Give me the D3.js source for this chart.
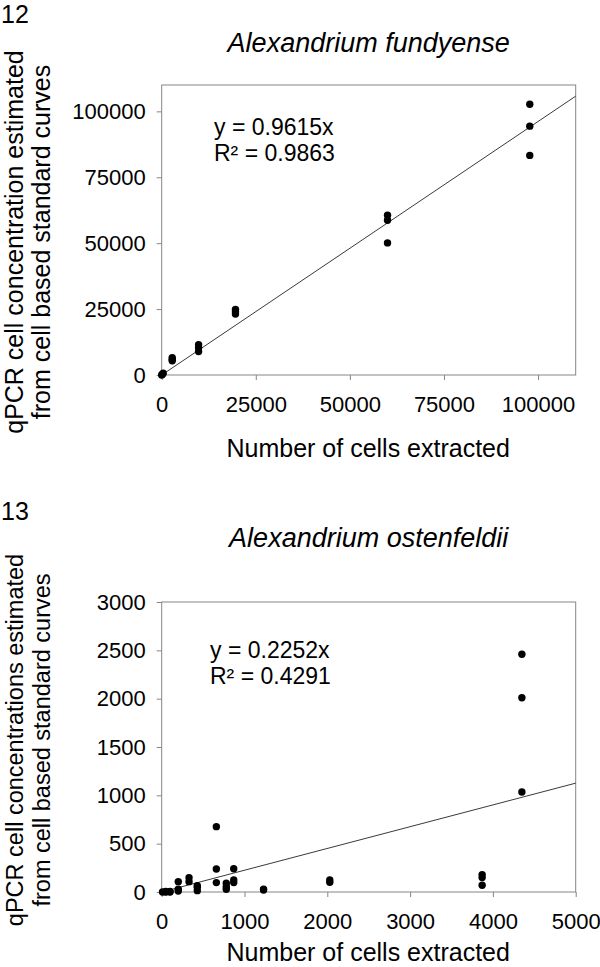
<!DOCTYPE html>
<html>
<head>
<meta charset="utf-8">
<script src="https://cdn.jsdelivr.net/npm/d3@7"></script>
<style>
  html, body { margin: 0; padding: 0; background: #fff; }
  svg { display: block; }
  text { font-family: "Liberation Sans", Arial, sans-serif; fill: #000; }
</style>
</head>
<body>
<svg id="chart" width="600" height="967"></svg>
<script>
// ---------- Data ----------
// Panel 12: Alexandrium fundyense
const fundyenseX = [0, 200, 400, 2800, 2800, 2800, 9800, 9800, 9800, 19600, 19600, 19600, 60000, 60000, 60000, 97800, 97800, 97800];
const fundyenseY = [0, 300, 700, 6600, 5900, 5400, 11500, 10300, 8900, 24900, 24000, 23100, 60600, 58700, 50100, 102700, 94400, 83300];
const fundyenseSlope = 0.9615;
const fundyenseEq = ["y = 0.9615x", "R\u00B2 = 0.9863"];
const fundyenseXTicks = [0, 25000, 50000, 75000, 100000];
const fundyenseYTicks = [0, 25000, 50000, 75000, 100000];

// Panel 13: Alexandrium ostenfeldii
const ostenfeldiiX = [10, 50, 50, 100, 100, 200, 200, 200, 330, 330, 430, 430, 430, 660, 660, 660, 780, 780, 780, 870, 870, 870, 1230, 1230, 2030, 2030, 3870, 3870, 3870, 4350, 4350, 4350];
const ostenfeldiiY = [0, 0, 5, 0, 5, 107, 28, 10, 148, 107, 65, 49, 14, 676, 238, 97, 90, 55, 28, 241, 124, 97, 21, 30, 124, 100, 180, 150, 70, 2460, 2010, 1034];
const ostenfeldiiSlope = 0.2252;
const ostenfeldiiEq = ["y = 0.2252x", "R\u00B2 = 0.4291"];
const ostenfeldiiXTicks = [0, 1000, 2000, 3000, 4000, 5000];
const ostenfeldiiYTicks = [0, 500, 1000, 1500, 2000, 2500, 3000];

const panels = [
  { num: "12", title: "Alexandrium fundyense", xs: fundyenseX, ys: fundyenseY, slope: fundyenseSlope, eq: fundyenseEq,
    xTicks: fundyenseXTicks, yTicks: fundyenseYTicks, xMax: 110000, yMax: 110000,
    yLabel: ["qPCR cell concentration estimated", "from cell based standard curves"] },
  { num: "13", title: "Alexandrium ostenfeldii", xs: ostenfeldiiX, ys: ostenfeldiiY, slope: ostenfeldiiSlope, eq: ostenfeldiiEq,
    xTicks: ostenfeldiiXTicks, yTicks: ostenfeldiiYTicks, xMax: 5000, yMax: 3000,
    yLabel: ["qPCR cell concentrations estimated", "from cell based standard curves"] }
];
const xLabel = "Number of cells extracted";

// ---------- Layout ----------
const layouts = [
  { top: 85, numY: 23, titleY: 52, eqX: 214, eqY: 135, yLabCenter: 242, yLabSize: 25, xLabY: 457, xLabSize: 25 },
  { top: 602, numY: 520, titleY: 547, eqX: 210, eqY: 658, yLabCenter: 740, yLabSize: 23.5, xLabY: 961, xLabSize: 25 }
];
const left = 161.7, plotW = 414, plotH = 290;
const axisColor = "#858585";

const svg = d3.select("#chart");

panels.forEach((p, i) => {
  const L = layouts[i];
  const g = svg.append("g").attr("transform", `translate(${left},${L.top})`);
  const x = d3.scaleLinear().domain([0, p.xMax]).range([0, plotW]);
  const y = d3.scaleLinear().domain([0, p.yMax]).range([plotH, 0]);

  // Axes
  const xAxis = g.append("g").attr("transform", `translate(0,${plotH})`)
    .call(d3.axisBottom(x).tickValues(p.xTicks).tickFormat(d3.format("d")).tickSize(5).tickPadding(16));
  const yAxis = g.append("g")
    .call(d3.axisLeft(y).tickValues(p.yTicks).tickFormat(d3.format("d")).tickSize(5).tickPadding(11));
  [xAxis, yAxis].forEach(a => {
    a.select(".domain").remove();
    a.selectAll(".tick line").attr("stroke", axisColor);
    a.selectAll(".tick text").attr("font-size", 22).attr("font-family", '"Liberation Sans", Arial, sans-serif').attr("fill", "#000");
  });

  // Plot box
  g.append("rect").attr("x", 0).attr("y", 0).attr("width", plotW).attr("height", plotH)
    .attr("fill", "none").attr("stroke", axisColor).attr("stroke-width", 1);

  // Trend line through origin
  g.append("line")
    .attr("x1", x(0)).attr("y1", y(0))
    .attr("x2", x(p.xMax)).attr("y2", y(p.slope * p.xMax))
    .attr("stroke", "#3a3a3a").attr("stroke-width", 1);

  // Points
  g.selectAll("circle.pt").data(p.xs.map((v, k) => [v, p.ys[k]])).join("circle")
    .attr("class", "pt")
    .attr("cx", d => x(d[0])).attr("cy", d => y(d[1])).attr("r", 3.7)
    .attr("fill", "#000");

  // Equation
  p.eq.forEach((t, k) => {
    svg.append("text").attr("x", L.eqX).attr("y", L.eqY + k * 25.7)
      .attr("font-size", 23).text(t);
  });

  // Panel number
  svg.append("text").attr("x", 1).attr("y", L.numY).attr("font-size", 25).text(p.num);

  // Title
  svg.append("text").attr("x", left + plotW / 2).attr("y", L.titleY)
    .attr("text-anchor", "middle").attr("font-size", 27).attr("font-style", "italic").text(p.title);

  // X label
  svg.append("text").attr("x", left + plotW / 2 - 0.5).attr("y", L.xLabY)
    .attr("text-anchor", "middle").attr("font-size", L.xLabSize).text(xLabel);

  // Y label (two lines, rotated)
  const baselines = [23, 50];
  p.yLabel.forEach((t, k) => {
    svg.append("text")
      .attr("transform", `translate(${baselines[k]},${L.yLabCenter}) rotate(-90)`)
      .attr("text-anchor", "middle").attr("font-size", L.yLabSize).text(t);
  });
});
</script>
</body>
</html>
